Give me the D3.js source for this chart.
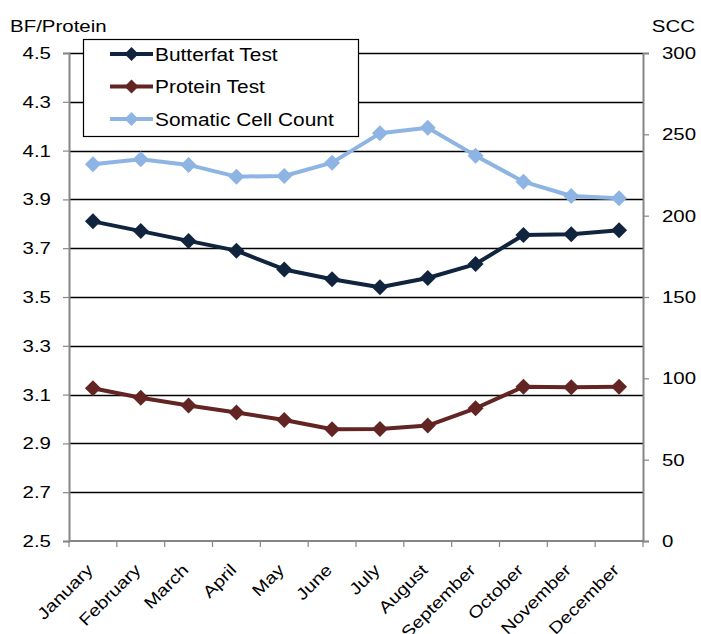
<!DOCTYPE html>
<html>
<head>
<meta charset="utf-8">
<script src="https://cdn.jsdelivr.net/npm/d3@7"></script>
<style>
  html, body { margin: 0; padding: 0; background: #fff; }
  svg { display: block; font-family: "Liberation Sans", Arial, sans-serif; }
</style>
</head>
<body>
<svg id="chart" width="701" height="634"></svg>
<script>
// Monthly herd averages
const months = ["January", "February", "March", "April", "May", "June", "July",
  "August", "September", "October", "November", "December"];
const butterfat = [3.81, 3.77, 3.73, 3.69, 3.613, 3.573, 3.54, 3.578, 3.635, 3.754, 3.757, 3.774];
const protein = [3.126, 3.087, 3.055, 3.027, 2.996, 2.958, 2.959, 2.973, 3.044, 3.132, 3.13, 3.132];
const scc = [231.6, 234.7, 231.2, 224.0, 224.4, 232.6, 250.6, 254.1, 236.9, 220.9, 212.1, 210.7];

const leftTicks = [2.5, 2.7, 2.9, 3.1, 3.3, 3.5, 3.7, 3.9, 4.1, 4.3, 4.5];
const rightTicks = [0, 50, 100, 150, 200, 250, 300];

const series = [
  { name: "Butterfat Test", values: butterfat, axis: "left", color: "#10243e" },
  { name: "Protein Test", values: protein, axis: "left", color: "#632523" },
  { name: "Somatic Cell Count", values: scc, axis: "right", color: "#8eb4e3" }
];

const svg = d3.select("#chart");
const m = { left: 69, right: 643, top: 53, bottom: 541 };

const x = d3.scaleBand().domain(months).range([m.left, m.right]);
const yL = d3.scaleLinear().domain([2.5, 4.5]).range([m.bottom, m.top]);
const yR = d3.scaleLinear().domain([0, 300]).range([m.bottom, m.top]);

const axisColor = "#868686";
const WIDE = 1.24;   // horizontal stretch applied to the lettering

// Text placed at (px, py) and widened along its baseline
function label(g, px, py, str, size, anchor, wide) {
  return g.append("text")
    .attr("transform", `translate(${px},${py}) scale(${wide || WIDE},1)`)
    .attr("text-anchor", anchor || "start")
    .attr("font-size", size)
    .attr("fill", "#000")
    .text(str);
}

// Horizontal gridlines
svg.append("g")
  .selectAll("line")
  .data(leftTicks.slice(1))
  .join("line")
  .attr("x1", m.left).attr("x2", m.right)
  .attr("y1", d => Math.round(yL(d)) + 0.5).attr("y2", d => Math.round(yL(d)) + 0.5)
  .attr("stroke", "#000").attr("stroke-width", 1.3);

// Left axis
const gL = svg.append("g")
  .attr("transform", `translate(${m.left},0)`)
  .call(d3.axisLeft(yL).tickValues(leftTicks).tickFormat(d3.format(".1f")).tickSize(6).tickPadding(0));
gL.selectAll(".tick text").remove();
leftTicks.forEach(t => label(gL, -18, yL(t) + 6, d3.format(".1f")(t), 16.5, "end"));

// Right axis
const gR = svg.append("g")
  .attr("transform", `translate(${m.right},0)`)
  .call(d3.axisRight(yR).tickValues(rightTicks).tickSize(6).tickPadding(0));
gR.selectAll(".tick text").remove();
rightTicks.forEach(t => label(gR, 19, yR(t) + 6, String(t), 16.5, "start"));

[gL, gR].forEach(g => {
  g.select(".domain").attr("stroke", axisColor).attr("stroke-width", 2);
  g.selectAll(".tick line").attr("stroke", axisColor).attr("stroke-width", 1.2);
});

// Bottom axis: ticks on band edges
const gB = svg.append("g")
  .attr("transform", `translate(0,${m.bottom})`);
gB.append("line")
  .attr("x1", m.left).attr("x2", m.right)
  .attr("stroke", axisColor).attr("stroke-width", 2);
gB.selectAll("line.tk")
  .data(months.map(d => x(d)).concat([m.right]))
  .join("line")
  .attr("class", "tk")
  .attr("x1", d => d).attr("x2", d => d)
  .attr("y1", 0).attr("y2", 6)
  .attr("stroke", axisColor).attr("stroke-width", 1.2);
gB.selectAll("text")
  .data(months)
  .join("text")
  .attr("transform", d => `translate(${x(d) + x.bandwidth() / 2 + 1},${30}) rotate(-45) scale(1.2,1)`)
  .attr("text-anchor", "end")
  .attr("font-size", 16.5)
  .attr("fill", "#000")
  .text(d => d);

// Axis titles
label(svg, 10, 32, "BF/Protein", 16.5, "start");
label(svg, 695, 32, "SCC", 16.5, "end");

// Diamond marker
const diamond = r => `M0,${-r}L${r},0L0,${r}L${-r},0Z`;

// Series lines and markers
series.forEach(s => {
  const yS = s.axis === "left" ? yL : yR;
  const line = d3.line()
    .x((d, i) => x(months[i]) + x.bandwidth() / 2)
    .y(d => yS(d));
  const g = svg.append("g");
  g.append("path")
    .attr("d", line(s.values))
    .attr("fill", "none")
    .attr("stroke", s.color)
    .attr("stroke-width", 4)
    .attr("stroke-linejoin", "round");
  g.selectAll("path.mk")
    .data(s.values)
    .join("path")
    .attr("class", "mk")
    .attr("transform", (d, i) => `translate(${x(months[i]) + x.bandwidth() / 2},${yS(d)})`)
    .attr("d", diamond(8))
    .attr("fill", s.color);
});

// Legend
const lg = svg.append("g");
lg.append("rect")
  .attr("x", 83.5).attr("y", 39.5).attr("width", 275).attr("height", 97)
  .attr("fill", "#fff").attr("stroke", "#000").attr("stroke-width", 1.2);
series.forEach((s, i) => {
  const yy = 54 + i * 32.5;
  lg.append("line")
    .attr("x1", 110).attr("x2", 153).attr("y1", yy).attr("y2", yy)
    .attr("stroke", s.color).attr("stroke-width", 4);
  lg.append("path")
    .attr("transform", `translate(131.5,${yy})`)
    .attr("d", diamond(7))
    .attr("fill", s.color);
  label(lg, 155, yy + 6.5, s.name, 18.5, "start", 1.13);
});
</script>
</body>
</html>
